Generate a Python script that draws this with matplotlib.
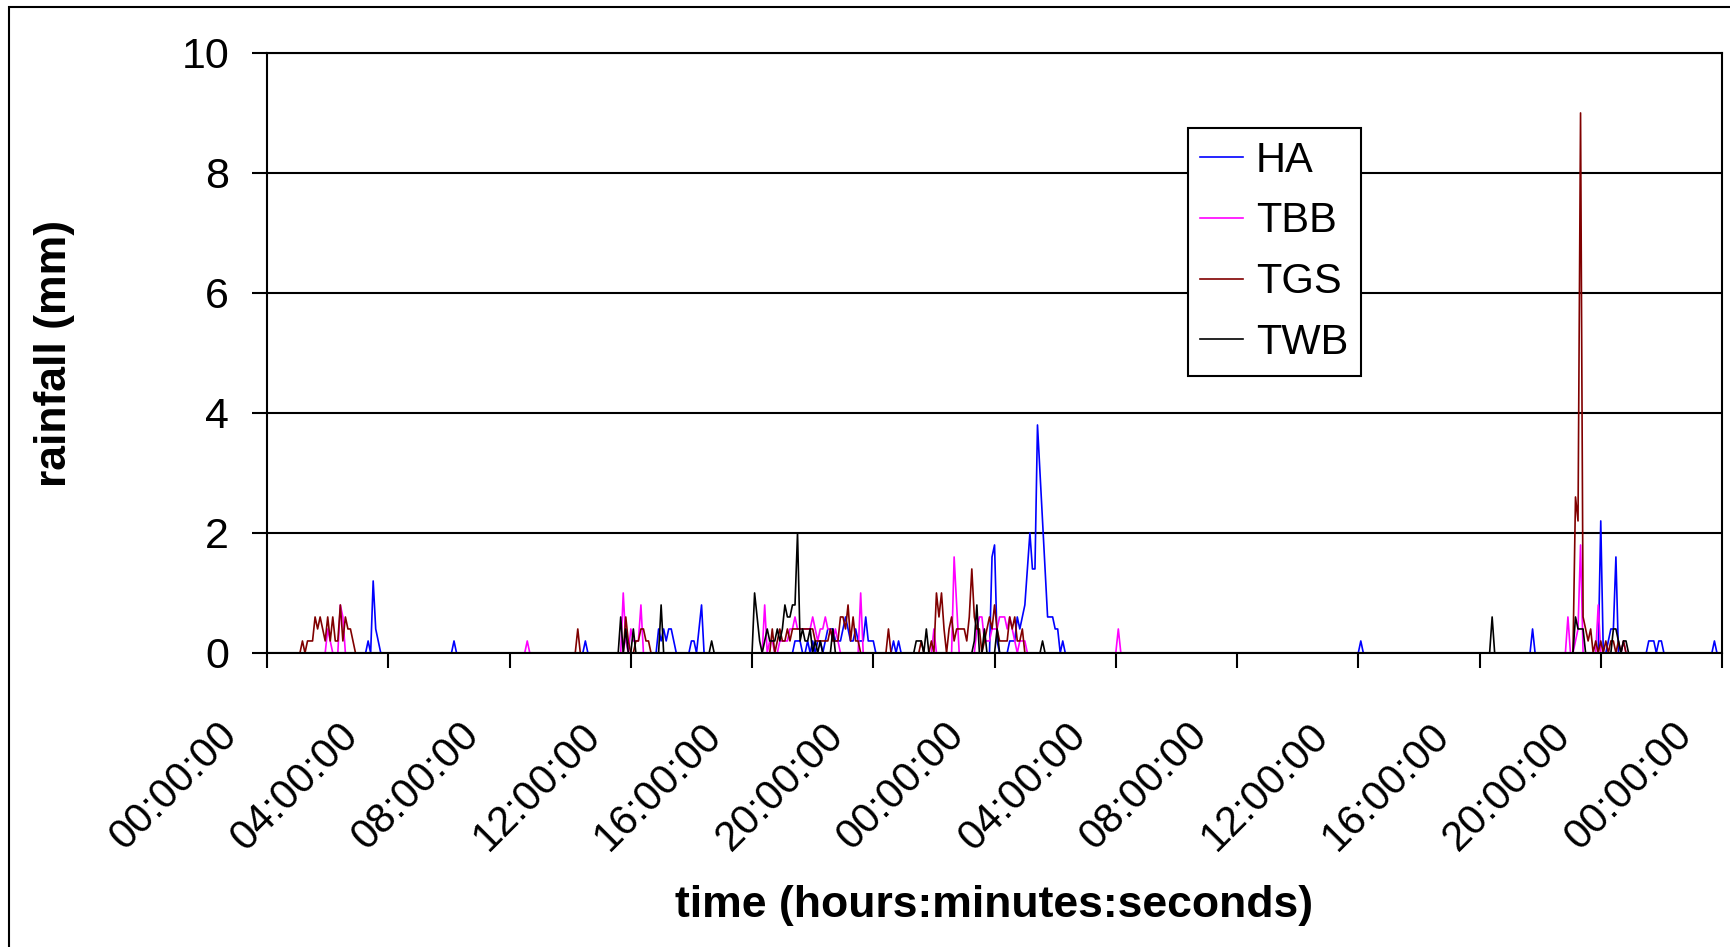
import numpy as np
import matplotlib
matplotlib.use('Agg')
import matplotlib.pyplot as plt
from matplotlib.patches import Rectangle
from matplotlib.transforms import ScaledTranslation

# 5-minute tipping-bucket readings over two days (index 0 = 00:00:00 day 1)
N_STEPS = 577
STEPS_PER_HOUR = 12

SERIES_NAMES = ['HA', 'TBB', 'TGS', 'TWB']
SERIES_COLORS = ['#0000FF', '#FF00FF', '#800000', '#000000']

# (first step index, consecutive rainfall values in mm); everything else is 0
HA_RUNS = [
    (40, [0.2, 0, 1.2, 0.4, 0.2]),
    (74, [0.2]),
    (126, [0.2]),
    (155, [0.4, 0.2, 0.4, 0.2, 0.4, 0.4, 0.2]),
    (168, [0.2, 0.2, 0, 0.4, 0.8]),
    (209, [0.2, 0.2, 0.2, 0, 0, 0.2, 0, 0.2, 0, 0.2, 0.2, 0, 0.2, 0.4, 0.4, 0.4,
           0.2, 0.2, 0.2, 0.4, 0.6, 0.4, 0.2, 0.2, 0.4, 0.2, 0.2, 0.2, 0.6, 0.2, 0.2, 0.2]),
    (248, [0.2, 0, 0.2]),
    (287, [1.6, 1.8, 0.2]),
    (294, [0.2, 0.2, 0.2, 0.6, 0.4, 0.6, 0.8, 1.4, 2.0, 1.4, 1.4, 3.8, 3.0, 2.2, 1.4,
           0.6, 0.6, 0.6, 0.4, 0.4, 0, 0.2]),
    (433, [0.2]),
    (501, [0.4]),
    (528, [2.2]),
    (531, [0.2, 0.4, 0.4, 1.6]),
    (547, [0.2, 0.2, 0.2, 0, 0.2, 0.2]),
    (573, [0.2]),
]

TBB_RUNS = [
    (24, [0.4, 0.2, 0, 0, 0, 0.8, 0.6]),
    (103, [0.2]),
    (141, [1.0, 0.2, 0, 0.4, 0.2, 0.2, 0.2, 0.8]),
    (197, [0.8, 0, 0.2, 0.2, 0, 0, 0.2, 0.2, 0.2, 0.2, 0.4, 0.4, 0.6, 0.4, 0.4, 0.4,
           0.4, 0.4, 0.4, 0.6, 0.4, 0.2, 0.4, 0.4, 0.6, 0.4, 0.4, 0.2, 0.4, 0.2]),
    (235, [1.0]),
    (264, [0.4]),
    (272, [1.6, 0.8]),
    (281, [0.4, 0.6, 0.6, 0.2, 0.2, 0.2, 0.4, 0.4, 0.4, 0.6, 0.6, 0.6, 0.4, 0.6, 0.4,
           0.2, 0, 0.2, 0.2, 0.2]),
    (337, [0.4]),
    (515, [0.6]),
    (518, [0.2, 0.4, 1.8]),
    (527, [0.8]),
    (537, [0.2]),
]

TGS_RUNS = [
    (14, [0.2, 0, 0.2, 0.2, 0.2, 0.6, 0.4, 0.6, 0.4, 0.2, 0.6, 0.2, 0.6, 0.2, 0.2, 0.8,
          0.2, 0.6, 0.4, 0.4, 0.2]),
    (123, [0.4]),
    (142, [0.6, 0.2, 0, 0, 0.2, 0.2, 0.4, 0.4, 0.2, 0.2]),
    (200, [0.4, 0, 0.2, 0.4, 0.2, 0.2, 0.4, 0.2, 0.4, 0.4, 0.4, 0.4, 0.4, 0.4, 0.4, 0.4,
           0.4, 0.2, 0.2, 0.2, 0.2, 0.2, 0.2, 0.4, 0.2, 0.2, 0.2, 0.6, 0.6, 0.4, 0.8, 0.2,
           0.6, 0.2, 0.2]),
    (246, [0.4]),
    (259, [0.2]),
    (263, [0.2, 0, 1.0, 0.6, 1.0, 0.4, 0, 0.4, 0.6, 0.2, 0.4, 0.4, 0.4, 0.4, 0.2, 0.6,
           1.4, 0.6, 0.4, 0.4, 0, 0.2, 0.4, 0.6, 0.4, 0.8, 0.4, 0.2, 0.2, 0.2, 0.2, 0.6,
           0.4, 0.6, 0.2, 0.2, 0.4]),
    (518, [2.6, 2.2, 9.0, 0.6, 0.4, 0.2, 0.4, 0, 0.2, 0, 0.2, 0, 0.2, 0, 0.2, 0.2, 0,
           0.2, 0, 0.2]),
]

TWB_RUNS = [
    (140, [0.6, 0, 0.4, 0, 0, 0.4]),
    (156, [0.8]),
    (176, [0.2]),
    (193, [1.0, 0.6, 0.2, 0, 0.2, 0.4, 0.2, 0.2, 0.2, 0.4, 0.2, 0.4, 0.8, 0.6, 0.6,
           0.8, 0.8, 2.0, 0.2, 0.4, 0.2, 0.2, 0.4, 0, 0.2, 0, 0.2]),
    (224, [0.4]),
    (257, [0.2, 0.2, 0.2, 0, 0.4]),
    (280, [0.2, 0.8, 0, 0, 0.4, 0, 0, 0, 0, 0.4]),
    (307, [0.2]),
    (485, [0.6]),
    (518, [0.6, 0.4, 0.4, 0.4]),
    (533, [0.4, 0.4, 0.2, 0, 0.2, 0.2]),
]

TICK_HOURS = list(range(0, 49, 4))
TICK_LABELS = ['00:00:00', '04:00:00', '08:00:00', '12:00:00', '16:00:00', '20:00:00',
               '00:00:00', '04:00:00', '08:00:00', '12:00:00', '16:00:00', '20:00:00',
               '00:00:00']
Y_TICKS = [0, 2, 4, 6, 8, 10]


def build_series(runs):
    """
    Expand the run list into a full 5-minute series.
    """
    y = np.zeros(N_STEPS)
    for start, vals in runs:
        y[start:start + len(vals)] = vals
    return y


def plot_data(hours, series):
    plt.rcParams['font.family'] = ['Liberation Sans', 'DejaVu Sans']
    fig = plt.figure(figsize=(17.31, 9.47), dpi=100)
    ax = fig.add_axes([0.1543, 0.3105, 0.8405, 0.6336])

    for name, color, y in zip(SERIES_NAMES, SERIES_COLORS, series):
        ax.plot(hours, y, color=color, lw=1.2, label=name)

    ax.set_xlim(0, 48)
    ax.set_ylim(0, 10)
    ax.set_yticks(Y_TICKS)
    ax.set_xticks(TICK_HOURS)
    ax.set_xticklabels(TICK_LABELS, rotation=45, ha='right', va='top')
    ax.grid(axis='y', color='black', lw=1.5)
    ax.set_axisbelow(True)
    for sp in ax.spines.values():
        sp.set_linewidth(1.5)
        sp.set_color('black')

    ax.tick_params(axis='y', direction='out', length=10.8, width=1.5, pad=16.5, labelsize=31)
    ax.tick_params(axis='x', direction='out', length=10.8, width=1.5, pad=34, labelsize=30)
    offset = ScaledTranslation(-0.22, 0, fig.dpi_scale_trans)
    for lab in ax.get_xticklabels():
        lab.set_transform(lab.get_transform() + offset)

    fig.text(55 / 1731, 1 - 353 / 947, 'rainfall (mm)', rotation=90, ha='center',
             va='center', fontsize=32, fontweight='bold')
    fig.text(994 / 1731, 1 - 905 / 947, 'time (hours:minutes:seconds)', ha='center',
             va='center', fontsize=32, fontweight='bold')

    leg = ax.legend(loc='upper left', bbox_to_anchor=(1188 / 1731, 1 - 128 / 947),
                    bbox_transform=fig.transFigure, borderaxespad=0, fontsize=30,
                    fancybox=False, framealpha=1, edgecolor='black', borderpad=0.3,
                    labelspacing=0.5, handlelength=1.03, handletextpad=0.3)
    leg.get_frame().set_linewidth(1.5)

    # outer chart border (right and bottom fall outside the picture)
    fig.patches.append(Rectangle((9 / 1731, -0.1), 1.2, 1 - 7 / 947 + 0.1,
                                 transform=fig.transFigure, fill=False,
                                 edgecolor='black', lw=1.5))
    fig.savefig('out.png', dpi=100)


if __name__ == "__main__":
    hours = np.arange(N_STEPS) / STEPS_PER_HOUR
    series = [build_series(r) for r in (HA_RUNS, TBB_RUNS, TGS_RUNS, TWB_RUNS)]
    plot_data(hours, series)
